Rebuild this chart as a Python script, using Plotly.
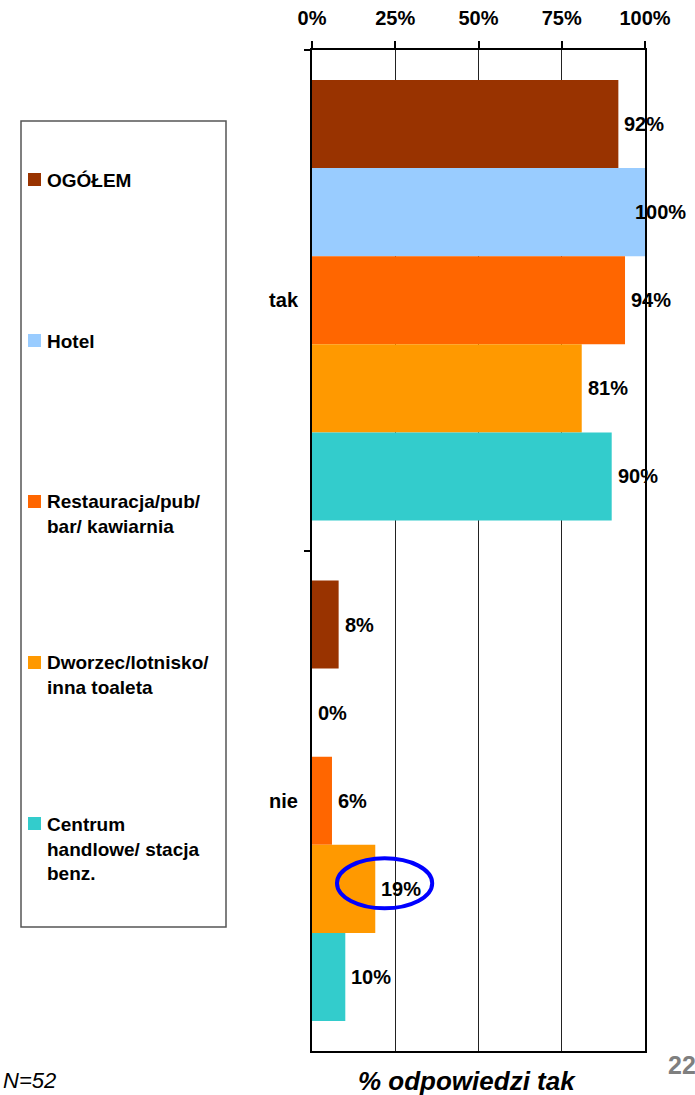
import plotly.graph_objects as go

categories = ["tak", "nie"]
series_names = ["OGÓŁEM", "Hotel", "Restauracja/pub/<br>bar/ kawiarnia",
                "Dworzec/lotnisko/<br>inna toaleta", "Centrum<br>handlowe/ stacja<br>benz."]
series_colors = ["#993300", "#99CCFF", "#FF6600", "#FF9900", "#33CCCC"]
values = [
    [92, 8],
    [100, 0],
    [94, 6],
    [81, 19],
    [90, 10],
]
x_ticks = [0, 25, 50, 75, 100]
x_tick_labels = ["0%", "25%", "50%", "75%", "100%"]

W, H = 695, 1095
L, R, T, B = 312, 50, 50, 44
PW, PH = W - L - R, H - T - B
FONT = "Liberation Sans, Arial, sans-serif"
BARGAP = 0.12


def px_x(p):
    return (p - L) / PW


def px_y(p):
    return 1 - (p - T) / PH


fig = go.Figure()
for name, col, vals in zip(series_names, series_colors, values):
    fig.add_trace(go.Bar(
        y=categories, x=vals, orientation="h", name=name,
        marker=dict(color=col, line=dict(width=0)),
        showlegend=False, hoverinfo="skip",
    ))

annotations = []
shapes = []

# data labels
n = len(series_names)
bw = (1 - BARGAP) / n
for i, vals in enumerate(values):
    for j, v in enumerate(vals):
        yy = j - (1 - BARGAP) / 2 + bw * (i + 0.5)
        if v >= 100:
            ax = dict(xanchor="center", xshift=15)
        else:
            ax = dict(xanchor="left", xshift=4)
        annotations.append(dict(
            x=v, y=yy, xref="x", yref="y", text=f"{v}%", showarrow=False,
            yanchor="middle", font=dict(family=FONT, size=20, color="black", weight="bold"),
            **ax,
        ))

# legend (manual)
shapes.append(dict(type="rect", xref="paper", yref="paper",
                   x0=px_x(21), x1=px_x(226), y0=px_y(121), y1=px_y(927),
                   line=dict(color="#555555", width=1.5), fillcolor="rgba(0,0,0,0)"))
lh = 1.3 * 19
centers = [180, 341, 502, 663, 824]
for name, col, c in zip(series_names, series_colors, centers):
    nl = name.count("<br>") + 1
    shapes.append(dict(type="rect", xref="paper", yref="paper",
                       x0=px_x(28), x1=px_x(41), y0=px_y(c - 7), y1=px_y(c + 6),
                       line=dict(width=0), fillcolor=col))
    annotations.append(dict(
        x=px_x(45), y=px_y(c + (nl - 1) * lh / 2), xref="paper", yref="paper",
        text=name, showarrow=False, xanchor="left", yanchor="middle", align="left",
        font=dict(family=FONT, size=19, color="black", weight="bold"),
    ))

# highlight ellipse around 19%
shapes.append(dict(type="circle", xref="x", yref="y",
                   x0=7.5, x1=36.1, y0=1.115, y1=1.215,
                   line=dict(color="#0000FF", width=4)))

# axis title at bottom
annotations.append(dict(
    x=px_x(467), y=px_y(1064), xref="paper", yref="paper", text="% odpowiedzi tak",
    showarrow=False, xanchor="center", yanchor="top",
    font=dict(family=FONT, size=26, color="black", weight="bold", style="italic"),
))
annotations.append(dict(
    x=px_x(1), y=px_y(1066), xref="paper", yref="paper", text="N=52",
    showarrow=False, xanchor="left", yanchor="top",
    font=dict(family=FONT, size=22, color="black", style="italic"),
))
annotations.append(dict(
    x=px_x(666), y=px_y(1049), xref="paper", yref="paper", text="22",
    showarrow=False, xanchor="left", yanchor="top",
    font=dict(family=FONT, size=25, color="#7F7F7F", weight="bold"),
))

fig.update_layout(
    width=W, height=H,
    margin=dict(l=L, r=R, t=T, b=B, pad=0, autoexpand=False),
    paper_bgcolor="white", plot_bgcolor="white",
    barmode="group", bargap=BARGAP, bargroupgap=0,
    showlegend=False,
    annotations=annotations, shapes=shapes,
    xaxis=dict(
        side="top", range=[0, 100], tickvals=x_ticks, ticktext=x_tick_labels,
        showgrid=True, gridcolor="#222222", gridwidth=1, zeroline=False,
        showline=True, linecolor="black", linewidth=2, mirror=True,
        ticks="outside", ticklen=7, tickcolor="black", tickwidth=1.5,
        ticklabelstandoff=8, automargin=False,
        tickfont=dict(family=FONT, size=20, color="black", weight="bold"),
        fixedrange=True,
    ),
    yaxis=dict(
        autorange="reversed", type="category",
        showline=True, linecolor="black", linewidth=2, mirror=True,
        ticks="outside", ticklen=6, tickcolor="black", tickwidth=1.5,
        tickson="boundaries", showgrid=False, zeroline=False,
        ticklabelstandoff=8, automargin=False,
        tickfont=dict(family=FONT, size=20, color="black", weight="bold"),
        fixedrange=True,
    ),
)

fig.write_html(
    "out.html",
    config={"displayModeBar": False},
    post_script="document.body.style.margin='0';document.body.style.padding='0';",
)
